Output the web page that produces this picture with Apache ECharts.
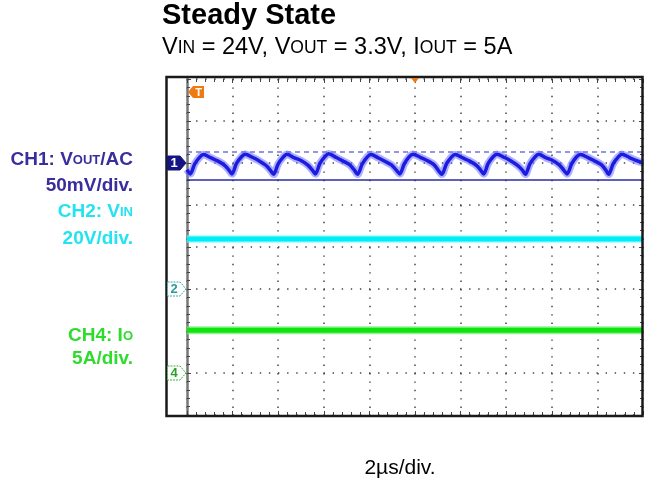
<!DOCTYPE html>
<html>
<head>
<meta charset="utf-8">
<script src="https://cdn.jsdelivr.net/npm/echarts@6/dist/echarts.min.js"></script>
<style>
  html, body { margin: 0; padding: 0; background: #fff; }
  #scope { width: 647px; height: 483px; }
</style>
</head>
<body>
<div id="scope"></div>
<script>
// time in µs (2µs/div, 10 div), vertical position in divisions (8 div, centre = 0)
const ch1Time = [
  0.00, 0.14, 0.34, 0.56, 0.72, 1.06, 1.34, 1.64, 1.84,
  1.97, 2.17, 2.39, 2.55, 2.89, 3.17, 3.47, 3.67,
  3.80, 4.00, 4.22, 4.38, 4.72, 5.00, 5.30, 5.50,
  5.63, 5.83, 6.05, 6.21, 6.55, 6.83, 7.13, 7.33,
  7.48, 7.68, 7.90, 8.06, 8.40, 8.68, 8.98, 9.18,
  9.33, 9.53, 9.75, 9.91, 10.25, 10.53, 10.83, 11.03,
  11.18, 11.38, 11.60, 11.76, 12.10, 12.38, 12.68, 12.88,
  13.01, 13.21, 13.43, 13.59, 13.93, 14.21, 14.51, 14.71,
  14.84, 15.04, 15.26, 15.42, 15.76, 16.04, 16.34, 16.54,
  16.67, 16.87, 17.09, 17.25, 17.59, 17.87, 18.17, 18.37,
  18.49, 18.69, 18.91, 19.07, 19.41, 19.69, 20.00
]
const ch1Value = [
  1.84, 1.74, 1.98, 2.14, 2.20, 2.12, 2.05, 1.95, 1.83,
  1.74, 1.99, 2.15, 2.21, 2.13, 2.05, 1.94, 1.82,
  1.73, 1.98, 2.14, 2.21, 2.12, 2.06, 1.95, 1.83,
  1.74, 1.99, 2.15, 2.22, 2.13, 2.05, 1.96, 1.84,
  1.73, 1.97, 2.14, 2.20, 2.12, 2.04, 1.95, 1.83,
  1.74, 1.98, 2.15, 2.21, 2.13, 2.06, 1.96, 1.82,
  1.73, 1.98, 2.14, 2.20, 2.12, 2.05, 1.95, 1.83,
  1.74, 1.99, 2.15, 2.21, 2.13, 2.05, 1.94, 1.83,
  1.73, 1.98, 2.14, 2.21, 2.12, 2.06, 1.95, 1.82,
  1.74, 1.98, 2.15, 2.20, 2.13, 2.05, 1.96, 1.83,
  1.73, 1.98, 2.14, 2.21, 2.13, 2.06, 2.00
]
const ch2Time = [0, 20]
const ch2Value = [0.19, 0.19]
const ch4Time = [0, 20]
const ch4Value = [-1.98, -1.98]

// cursor levels on CH1 and channel ground markers (divisions)
const cursorHigh = 2.27
const cursorLow = 1.61
const groundLevels = [2, -1, -3]
const triggerLevel = 3.69
const triggerTime = 10

const zip = (xs, ys) => xs.map((x, i) => [x, ys[i]])

const blue = '#1c1ce0'
const cyan = '#00eef8'
const green = '#0ee40e'
const FONT = 'Liberation Sans, Arial, sans-serif'

const trace = (name, data, core, halo, wCore, wHalo, extra) => ([
  {
    name: name + '-halo', type: 'line', data, showSymbol: false, smooth: 0.3,
    lineStyle: { color: halo, width: wHalo }, z: 3, silent: true
  },
  Object.assign({
    name, type: 'line', data, showSymbol: false, smooth: 0.3,
    lineStyle: { color: core, width: wCore }, z: 4, silent: true
  }, extra || {})
])

const tickStyle = { color: '#444', width: 1 }
const edgeAxis = (pos, isX) => ({
  type: 'value',
  min: isX ? 0 : -4, max: isX ? 20 : 4, interval: isX ? 2 : 1,
  position: pos,
  axisLine: { show: false, onZero: false },
  axisLabel: { show: false },
  axisTick: { show: true, inside: true, length: 4, lineStyle: tickStyle },
  minorTick: { show: true, splitNumber: 5, length: 3, lineStyle: tickStyle },
  splitLine: { show: false }
})

const option = {
  animation: false,
  grid: { left: 187, right: 4, top: 79, bottom: 68, outerBoundsMode: 'none' },
  xAxis: [
    Object.assign(edgeAxis('bottom', true), {
      splitLine: { show: true, lineStyle: { color: '#444', width: 1.5, type: [1.4, 7.0] } }
    }),
    edgeAxis('top', true)
  ],
  yAxis: [
    Object.assign(edgeAxis('left', false), {
      axisLine: { show: true, onZero: false, lineStyle: { color: '#777', width: 2.5 } },
      splitLine: { show: true, lineStyle: { color: '#444', width: 1.5, type: [1.4, 7.7] } }
    }),
    edgeAxis('right', false)
  ],
  series: [
    ...trace('CH1', zip(ch1Time, ch1Value), blue, 'rgba(110,110,255,0.55)', 3.5, 7.5, {
      markLine: {
        silent: true, symbol: 'none', label: { show: false },
        data: [
          { yAxis: cursorHigh, lineStyle: { color: '#7676d6', width: 1.6, type: [5, 4] } },
          { yAxis: cursorLow, lineStyle: { color: '#2a2aa6', width: 1.6, type: 'solid' } }
        ]
      }
    }),
    ...trace('CH2', zip(ch2Time, ch2Value), cyan, 'rgba(120,245,255,0.7)', 5, 7.5),
    ...trace('CH4', zip(ch4Time, ch4Value), green, 'rgba(110,235,110,0.7)', 5, 8)
  ]
}

const chart = echarts.init(document.getElementById('scope'), null, { renderer: 'canvas' })
chart.setOption(option)

// annotations placed from the axes
const yPix = v => chart.convertToPixel({ gridIndex: 0 }, [0, v])[1]
const xPix = t => chart.convertToPixel({ gridIndex: 0 }, [t, 0])[0]
const gridTop = yPix(4)

const tag = (level, label, fill, stroke, textColor, dashed) => {
  const cy = yPix(level)
  return [
    {
      type: 'polygon', z: 10,
      shape: { points: [[167.5, cy - 7], [180, cy - 7], [186, cy], [180, cy + 7], [167.5, cy + 7]] },
      style: { fill, stroke, lineWidth: 1, lineDash: dashed ? [2, 1] : null }
    },
    {
      type: 'text', z: 11, x: 174, y: cy + 0.5,
      style: { text: label, fill: textColor, font: 'bold 13px ' + FONT, textAlign: 'center', textVerticalAlign: 'middle' }
    }
  ]
}

const sub = (size, color, weight) => ({ fontSize: size, fill: color, fontWeight: weight, fontFamily: FONT })

const sideLabel = (y, text, color, rich) => ({
  type: 'text', x: 133, y,
  style: {
    text, fill: color, fontSize: 19, fontWeight: 'bold', fontFamily: FONT,
    textAlign: 'right', textVerticalAlign: 'middle',
    rich: rich || {}
  }
})

const navy = '#3a2e9e'
const lcyan = '#22e4f0'
const lgreen = '#2edc2e'
const trigY = yPix(triggerLevel)

chart.setOption({
  graphic: [
    {
      type: 'rect', z: 9,
      shape: { x: 166.5, y: 77, width: 476, height: 339 },
      style: { fill: null, stroke: '#1a1a1a', lineWidth: 2.5 }
    },
    ...tag(groundLevels[0], '1', '#141482', '#141482', '#fff', false),
    ...tag(groundLevels[1], '2', '#fff', '#3aa8a8', '#2a9a9a', true),
    ...tag(groundLevels[2], '4', '#fff', '#3cb43c', '#2aa02a', true),
    // trigger level tag
    {
      type: 'polygon', z: 10,
      shape: { points: [[188, trigY], [193, trigY - 6], [204, trigY - 6], [204, trigY + 6], [193, trigY + 6]] },
      style: { fill: '#f07a12' }
    },
    {
      type: 'text', z: 11, x: 198.5, y: trigY + 0.5,
      style: { text: 'T', fill: '#fff', font: 'bold 11px ' + FONT, textAlign: 'center', textVerticalAlign: 'middle' }
    },
    // trigger position
    {
      type: 'polygon', z: 10,
      shape: { points: [[xPix(triggerTime) - 4, gridTop - 1], [xPix(triggerTime) + 4, gridTop - 1], [xPix(triggerTime), gridTop + 4]] },
      style: { fill: '#f07a12' }
    },
    // titles
    {
      type: 'text', x: 162, y: 16,
      style: { text: 'Steady State', fill: '#000', font: 'bold 29px ' + FONT, textVerticalAlign: 'middle' }
    },
    {
      type: 'text', x: 162, y: 48,
      style: {
        text: '{m|V}{s|IN}{m| = 24V, V}{s|OUT}{m| = 3.3V, I}{s|OUT}{m| = 5A}',
        textVerticalAlign: 'middle',
        rich: { m: sub(23.5, '#000', 'normal'), s: sub(17.5, '#000', 'normal') }
      }
    },
    sideLabel(160, '{m|CH1: V}{s|OUT}{m|/AC}', navy, { m: sub(19, navy, 'bold'), s: sub(13, navy, 'bold') }),
    sideLabel(186, '50mV/div.', navy),
    sideLabel(212, '{m|CH2: V}{s|IN}', lcyan, { m: sub(19, lcyan, 'bold'), s: sub(13, lcyan, 'bold') }),
    sideLabel(239, '20V/div.', lcyan),
    sideLabel(336, '{m|CH4: I}{s|O}', lgreen, { m: sub(19, lgreen, 'bold'), s: sub(13, lgreen, 'bold') }),
    sideLabel(359, '5A/div.', lgreen),
    {
      type: 'text', x: 400, y: 468,
      style: { text: '2µs/div.', fill: '#000', font: '21px ' + FONT, textAlign: 'center', textVerticalAlign: 'middle' }
    }
  ]
})
</script>
</body>
</html>
